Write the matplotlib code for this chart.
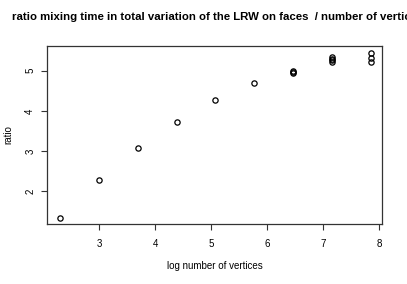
import numpy as np
import matplotlib
matplotlib.use("Agg")
import matplotlib.pyplot as plt

plt.rcParams['font.family'] = ['Liberation Sans', 'DejaVu Sans']

log_n = [2.303, 2.996, 3.689, 4.382, 5.075, 5.768,
         6.461, 6.461, 6.461,
         7.155, 7.155, 7.155, 7.155,
         7.848, 7.848, 7.848]
ratio = [1.345, 2.28, 3.08, 3.73, 4.27, 4.69,
         4.99, 4.96, 4.93,
         5.33, 5.29, 5.25, 5.22,
         5.43, 5.32, 5.21]
xticks = [3, 4, 5, 6, 7, 8]
yticks = [2, 3, 4, 5]

W, H = 407, 284
fig = plt.figure(figsize=(W/100, H/100), dpi=100)
l, r, t, b = 47, 382, 46, 224
ax = fig.add_axes([l/W, 1-b/H, (r-l)/W, (b-t)/H])
ax.plot(log_n, ratio, linestyle='none', marker='o', markersize=3.8,
        markerfacecolor='none', markeredgecolor='black', markeredgewidth=0.9)
ax.set_xlim(2.066, 8.05)
ax.set_ylim(1.19, 5.61)
ax.set_xticks(xticks)
ax.set_yticks(yticks)
ax.set_xticklabels([str(v) for v in xticks], fontsize=7)
ax.set_yticklabels([str(v) for v in yticks], fontsize=7, rotation=90, va='center')
ax.tick_params(axis='x', direction='out', length=4.5, width=0.8, pad=6, color='#333333')
ax.tick_params(axis='y', direction='out', length=4.5, width=0.8, pad=4, color='#333333')
for s in ax.spines.values():
    s.set_linewidth(0.9)
    s.set_color('#333333')
ax.set_xlabel('log number of vertices', fontsize=7)
ax.xaxis.set_label_coords(0.5, (224-266)/178)
ax.xaxis.label.set_va('center')
ax.set_ylabel('ratio', fontsize=7)
ax.yaxis.set_label_coords((8-47)/335, 0.5)
ax.yaxis.label.set_va('center')
fig.text(12/W, 1-17/H, 'ratio mixing time in total variation of the LRW on faces  / number of vertices',
         ha='left', va='center', fontsize=8.2, fontweight='bold')
fig.savefig('out.png', dpi=100)
